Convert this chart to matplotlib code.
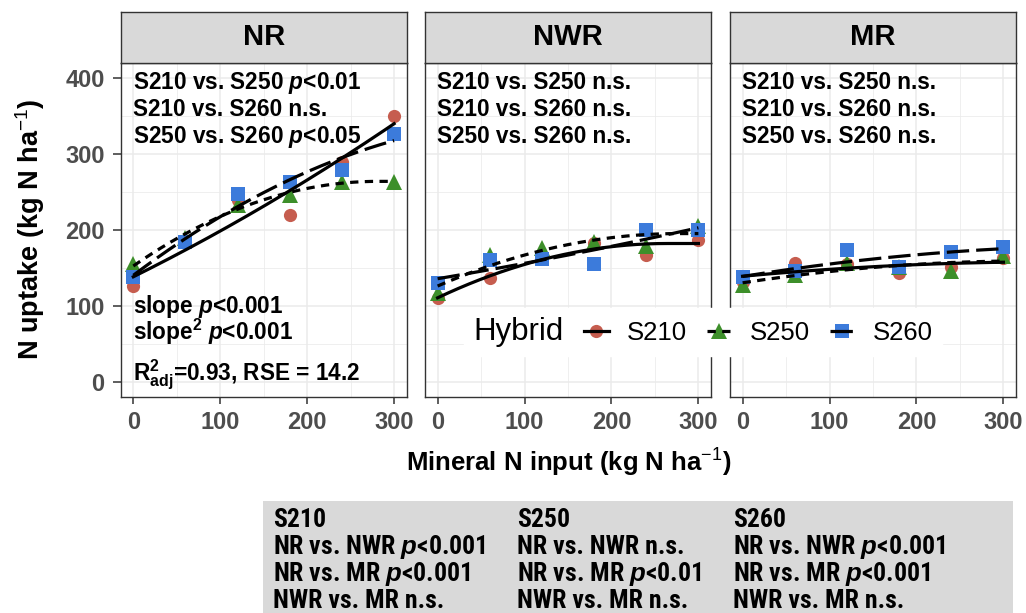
import numpy as np
import matplotlib
matplotlib.use('Agg')
import matplotlib.pyplot as plt
from matplotlib.lines import Line2D
from matplotlib.patches import Rectangle
from matplotlib.legend_handler import HandlerTuple
from matplotlib import font_manager as fm

plt.rcParams['font.family'] = ['Liberation Sans', 'DejaVu Sans']
plt.rcParams['mathtext.fontset'] = 'custom'
plt.rcParams['mathtext.rm'] = 'Liberation Sans:bold'
plt.rcParams['mathtext.bf'] = 'Liberation Sans:bold'
plt.rcParams['mathtext.it'] = 'Liberation Sans:bold:italic'
plt.rcParams['mathtext.sf'] = 'Liberation Sans'

# ---------------- data ----------------
n_input = [0, 60, 120, 180, 240, 300]
regimes = ['NR', 'NWR', 'MR']
hybrids = ['S210', 'S250', 'S260']

nr_s210 = [127, 185, 240, 220, 290, 350]
nr_s250 = [155, 190, 233, 247, 264, 263]
nr_s260 = [139, 184, 248, 264, 279, 327]
nwr_s210 = [111, 137, 165, 183, 168, 187]
nwr_s250 = [117, 168, 177, 184, 179, 205]
nwr_s260 = [130, 161, 162, 156, 201, 201]
mr_s210 = [132, 157, 155, 144, 152, 163]
mr_s250 = [128, 141, 157, 152, 146, 166]
mr_s260 = [138, 146, 174, 152, 172, 178]

uptake = {
    'NR': [nr_s210, nr_s250, nr_s260],
    'NWR': [nwr_s210, nwr_s250, nwr_s260],
    'MR': [mr_s210, mr_s250, mr_s260],
}

hybrid_tests = {
    'NR': ['S210 vs. S250 $p$<0.01', 'S210 vs. S260 n.s.', 'S250 vs. S260 $p$<0.05'],
    'NWR': ['S210 vs. S250 n.s.', 'S210 vs. S260 n.s.', 'S250 vs. S260 n.s.'],
    'MR': ['S210 vs. S250 n.s.', 'S210 vs. S260 n.s.', 'S250 vs. S260 n.s.'],
}
model_stats = ['slope $p$<0.001', 'slope$^2$ $p$<0.001',
               r'R$^2_{\mathrm{adj}}$=0.93, RSE = 14.2']
regime_tests = {
    'S210': ['NR vs. NWR $p$<0.001', 'NR vs. MR $p$<0.001', 'NWR vs. MR n.s.'],
    'S250': ['NR vs. NWR n.s.', 'NR vs. MR $p$<0.01', 'NWR vs. MR n.s.'],
    'S260': ['NR vs. NWR $p$<0.001', 'NR vs. MR $p$<0.001', 'NWR vs. MR n.s.'],
}

# ---------------- styles ----------------
colors = ['#C65D4F', '#3D8F2A', '#3C7BDB']
markers = ['o', '^', 's']
msizes = [9.5, 11.5, 9.5]
lstyles = ['-', (0, (2.6, 2.0)), (0, (7.0, 2.2))]
LW = 2.3

W, H = 1026, 613
fig = plt.figure(figsize=(W / 100, H / 100), dpi=100)


def fx(px):
    return px / W


def fy(py):
    return 1 - py / H


def fit_curve(x, y):
    x = np.asarray(x, float)
    y = np.asarray(y, float)
    c = np.polyfit(x, y, 2)
    xs = np.linspace(x.min(), x.max(), 200)
    ys = np.polyval(c, xs)
    if c[0] < 0:
        xv = -c[1] / (2 * c[0])
        if x.min() < xv < x.max():
            ys = np.where(xs > xv, np.polyval(c, xv), ys)
    return xs, ys


def find_narrow_bold():
    prefs = ['liberation sans narrow', 'arial narrow', 'roboto condensed',
             'noto sans condensed', 'dejavu sans condensed',
             'open sans condensed']
    found = []
    for f in fm.fontManager.ttflist:
        key = (f.name + ' ' + str(f.stretch) + ' ' + f.fname).lower()
        narrow = ('narrow' in key) or ('condensed' in key)
        if not narrow or 'semicondensed' in key or 'extracondensed' in key \
                or 'semi-condensed' in key or 'extra-condensed' in key:
            continue
        if f.style != 'normal':
            continue
        if f.weight not in (700, 'bold'):
            continue
        rank = len(prefs)
        for r, p in enumerate(prefs):
            pw = p.split()
            if all(w in key for w in pw):
                rank = r
                break
        found.append((rank, f.fname))
    if not found:
        return None
    found.sort()
    return fm.FontProperties(fname=found[0][1])


panel_left = [120.7, 425.0, 730.0]
panel_w = 286.0
panel_top, panel_bot = 62.7, 396.7
strip_top = 11.7
dark = '#333333'
tickcol = '#4D4D4D'

axes = []
for i, reg in enumerate(regimes):
    ax = fig.add_axes([fx(panel_left[i]), fy(panel_bot), panel_w / W,
                       (panel_bot - panel_top) / H])
    axes.append(ax)
    ax.set_xlim(-14.5, 314.5)
    ax.set_ylim(-19, 420.5)
    ax.set_xticks([0, 100, 200, 300])
    ax.set_xticks([50, 150, 250], minor=True)
    ax.set_yticks([0, 100, 200, 300, 400])
    ax.set_yticks([50, 150, 250, 350], minor=True)
    ax.grid(which='major', color='#EBEBEB', lw=1.1, zorder=0)
    ax.grid(which='minor', color='#EBEBEB', lw=0.55, zorder=0)
    ax.set_axisbelow(True)
    for s in ax.spines.values():
        s.set_color(dark)
        s.set_linewidth(1.0)
        s.set_zorder(6)
    ax.tick_params(which='minor', length=0)
    ax.tick_params(axis='x', which='major', length=5, width=1.1, color=dark,
                   labelcolor=tickcol, labelsize=17, pad=5)
    ax.tick_params(axis='y', which='major', length=5.5, width=1.1, color=dark,
                   labelcolor=tickcol, labelsize=17, pad=6)
    for lab in ax.get_xticklabels() + ax.get_yticklabels():
        lab.set_fontweight('bold')
    if i > 0:
        ax.tick_params(axis='y', which='both', left=False, labelleft=False)

    for j, hyb in enumerate(hybrids):
        y = uptake[reg][j]
        ax.plot(n_input, y, linestyle='none', marker=markers[j],
                markersize=msizes[j], color=colors[j], markeredgewidth=0,
                zorder=3)
    for j, hyb in enumerate(hybrids):
        xs, ys = fit_curve(n_input, uptake[reg][j])
        ax.plot(xs, ys, color='black', lw=LW, linestyle=lstyles[j], zorder=4)

    ytxt = [0.920, 0.840, 0.759]
    for k, t in enumerate(hybrid_tests[reg]):
        ax.text(0.043, ytxt[k], t, transform=ax.transAxes, fontsize=16.3,
                fontweight='bold', ha='left', va='baseline', zorder=7)
    if reg == 'NR':
        for k, t in enumerate(model_stats):
            ax.text(0.043, [0.252, 0.170, 0.050][k], t, transform=ax.transAxes,
                    fontsize=16.3, fontweight='bold', ha='left',
                    va='baseline', zorder=7)

    # strip
    sax = fig.add_axes([fx(panel_left[i]), fy(panel_top), panel_w / W,
                        (panel_top - strip_top) / H])
    sax.set_facecolor('#D9D9D9')
    sax.set_xticks([])
    sax.set_yticks([])
    for s in sax.spines.values():
        s.set_color(dark)
        s.set_linewidth(1.0)
    sax.text(0.5, 0.5, reg, ha='center', va='center', fontsize=21,
             fontweight='bold', transform=sax.transAxes)

# axis titles
fig.text(fx(30), fy(229.5), r'N uptake (kg N ha$^{\mathsf{-1}}$)', rotation=90,
         ha='center', va='center', fontsize=19.5, fontweight='bold')
fig.text(fx(568.7), fy(472), r'Mineral N input (kg N ha$^{\mathsf{-1}}$)',
         ha='center', va='baseline', fontsize=18.5, fontweight='bold')

# legend
handles = []
for j, hyb in enumerate(hybrids):
    mk = Line2D([], [], linestyle='none', marker=markers[j],
                markersize=msizes[j], color=colors[j], markeredgewidth=0)
    ln = Line2D([], [], color='black', lw=LW, linestyle=lstyles[j])
    handles.append((mk, ln))
leg = fig.legend(handles, hybrids, ncol=3, title='Hybrid', loc='center',
                 bbox_to_anchor=(fx(703), fy(332)), frameon=True,
                 fancybox=False, edgecolor='white', facecolor='white',
                 framealpha=1, fontsize=18.5, title_fontsize=22.5,
                 handlelength=0.95, handletextpad=0.7, columnspacing=0.8,
                 borderpad=0.35,
                 handler_map={tuple: HandlerTuple(ndivide=1, pad=0)})
c = leg.get_children()[0]
title_box = c.get_children()[0]
hpack = c.get_children()[1]
c._children = [hpack]
hpack._children = [title_box] + hpack.get_children()
leg.set_zorder(10)

# bottom box with regime comparisons
fig.patches.append(Rectangle((fx(263), 0), fx(1013) - fx(263), fy(501),
                             transform=fig.transFigure, facecolor='#D9D9D9',
                             edgecolor='none', zorder=0))
narrow_fp = find_narrow_bold()
if narrow_fp is None:
    narrow_fp = fm.FontProperties(family='Liberation Sans', weight='bold')

# size the box text so that its widest line spans about the same width as in the chart
target_w = 214.0
probe = fig.text(0, 0, regime_tests['S210'][0], fontproperties=narrow_fp)
probe.set_fontsize(20)
renderer = fig.canvas.get_renderer()
w20 = probe.get_window_extent(renderer).width
probe.remove()
box_size = min(18.5, 20 * target_w / w20)

col_x = [273, 517, 733]
for j, hyb in enumerate(hybrids):
    lines = [hyb] + regime_tests[hyb]
    for k, t in enumerate(lines):
        txt = fig.text(fx(col_x[j]), fy(526.7 + 27 * k), t,
                       fontproperties=narrow_fp, ha='left', va='baseline')
        txt.set_fontsize(box_size)

fig.savefig('out.png', dpi=100)
